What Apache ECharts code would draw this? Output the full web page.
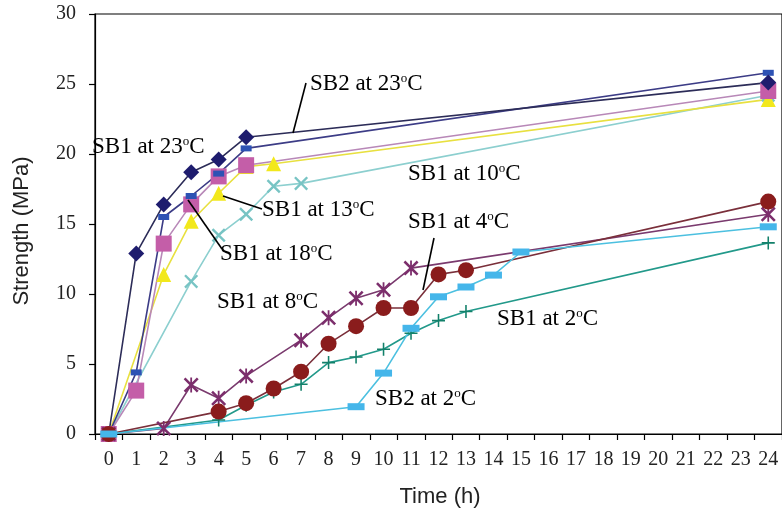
<!DOCTYPE html>
<html>
<head>
<meta charset="utf-8">
<script src="https://cdn.jsdelivr.net/npm/echarts@6/dist/echarts.min.js"></script>
<style>
html,body{margin:0;padding:0;background:#fff;}
#chart{width:782px;height:514px;}
</style>
</head>
<body>
<div id="chart"></div>
<script>
// ---- Data (hours 0..24, strength in MPa) ----
const hours = ['0','1','2','3','4','5','6','7','8','9','10','11','12','13','14','15','16','17','18','19','20','21','22','23','24'];
const yTicks = [0, 5, 10, 15, 20, 25, 30];

const sb2_23 = [0, 12.9, 16.4, 18.7, 19.6, 21.2, null, null, null, null, null, null, null, null, null, null, null, null, null, null, null, null, null, null, 25.1];
const sb1_23 = [0, 4.4, 15.5, 17.0, 18.6, 20.4, null, null, null, null, null, null, null, null, null, null, null, null, null, null, null, null, null, null, 25.8];
const sb1_18 = [0, 3.1, 13.6, 16.4, 18.4, 19.2, null, null, null, null, null, null, null, null, null, null, null, null, null, null, null, null, null, null, 24.5];
const sb1_13 = [0, null, 11.4, 15.2, 17.2, 19.1, 19.3, null, null, null, null, null, null, null, null, null, null, null, null, null, null, null, null, null, 23.9];
const sb1_10 = [0, null, null, 10.9, 14.2, 15.7, 17.7, 17.9, null, null, null, null, null, null, null, null, null, null, null, null, null, null, null, null, 24.2];
const sb1_8  = [0, null, 0.4, 3.5, 2.55, 4.15, null, 6.7, 8.3, 9.7, 10.3, 11.85, null, null, null, null, null, null, null, null, null, null, null, null, 15.7];
const sb1_4  = [0, null, null, null, 1.6, 2.2, 3.25, 4.45, 6.45, 7.7, 9.0, 9.0, 11.4, 11.7, null, null, null, null, null, null, null, null, null, null, 16.6];
const sb1_2  = [0, null, null, null, 1.0, 2.05, 3.0, 3.55, 5.1, 5.5, 6.05, 7.2, 8.1, 8.75, null, null, null, null, null, null, null, null, null, null, 13.65];
const sb2_2  = [0, null, null, null, null, null, null, null, null, 1.95, 4.35, 7.55, 9.8, 10.5, 11.35, 13.0, null, null, null, null, null, null, null, null, 14.8];

const seriesNames = ['SB2 at 23°C','SB1 at 23°C','SB1 at 18°C','SB1 at 13°C','SB1 at 10°C','SB1 at 8°C','SB1 at 4°C','SB1 at 2°C','SB2 at 2°C'];

// ---- Marker shapes ----
const X_PATH = 'path://M0,1.2 L1.2,0 L5,3.8 L8.8,0 L10,1.2 L6.2,5 L10,8.8 L8.8,10 L5,6.2 L1.2,10 L0,8.8 L3.8,5 Z';
const PLUS_PATH = 'path://M4.4,0 H5.6 V4.4 H10 V5.6 H5.6 V10 H4.4 V5.6 H0 V4.4 H4.4 Z';
const AST_PATH = 'path://M0,1.2 L1.2,0 L5,3.8 L8.8,0 L10,1.2 L6.2,5 L10,8.8 L8.8,10 L5,6.2 L1.2,10 L0,8.8 L3.8,5 Z M4.4,0 H5.6 V10 H4.4 Z';

function mk(name, data, lineColor, markColor, symbol, size) {
  return {
    name: name, type: 'line', data: data, connectNulls: true,
    symbol: symbol, symbolSize: size, showSymbol: true,
    lineStyle: { color: lineColor, width: 1.6 },
    itemStyle: { color: markColor, borderWidth: 0 },
    emphasis: { disabled: true }, z: 3
  };
}

const series = [
  mk(seriesNames[4], sb1_10, '#8ccfcf', '#78c4c4', X_PATH, 14),
  mk(seriesNames[3], sb1_13, '#e8e040', '#f2e81c', 'triangle', 15),
  mk(seriesNames[2], sb1_18, '#b888b8', '#c45ea8', 'rect', 16),
  mk(seriesNames[1], sb1_23, '#3c3c86', '#2d52b4', 'rect', [11, 6]),
  mk(seriesNames[0], sb2_23, '#2c2c58', '#1e1c6e', 'diamond', 16),
  mk(seriesNames[5], sb1_8, '#7a3a6e', '#7c2e6c', AST_PATH, 15),
  mk(seriesNames[7], sb1_2, '#22998a', '#12806a', PLUS_PATH, 13),
  mk(seriesNames[6], sb1_4, '#7a2f3a', '#8a1c1c', 'circle', 16),
  mk(seriesNames[8], sb2_2, '#4cc0e0', '#45b6ea', 'rect', [17, 7])
];

function label(x, y, pre) {
  return {
    type: 'text', x: x, y: y, z: 10,
    style: {
      text: '{a|' + pre + '}{s|o}{a|C}',
      verticalAlign: 'middle', align: 'left',
      rich: {
        a: { fontFamily: 'Liberation Serif', fontSize: 23, fill: '#000' },
        s: { fontFamily: 'Liberation Serif', fontSize: 13, fill: '#000', verticalAlign: 'top' }
      }
    }
  };
}
function lead(x1, y1, x2, y2) {
  return { type: 'line', z: 10, shape: { x1: x1, y1: y1, x2: x2, y2: y2 }, style: { stroke: '#000', lineWidth: 1.6 } };
}

const chart = echarts.init(document.getElementById('chart'), null, { renderer: 'canvas' });
chart.setOption({
  animation: false,
  backgroundColor: '#ffffff',
  grid: { left: 95, right: -6, top: 14, bottom: 80, show: true, borderColor: '#000', borderWidth: 1.2, backgroundColor: 'transparent' },
  xAxis: {
    type: 'category', data: hours, boundaryGap: true,
    axisLine: { lineStyle: { color: '#000', width: 1.2 } },
    axisTick: { show: true, inside: false, length: 6, lineStyle: { color: '#000', width: 1.2 } },
    axisLabel: { interval: 0, margin: 16, fontFamily: 'Liberation Serif', fontSize: 20, color: '#222' },
    splitLine: { show: false }
  },
  yAxis: {
    type: 'value', min: yTicks[0], max: yTicks[yTicks.length - 1], interval: 5,
    axisLine: { show: true, lineStyle: { color: '#000', width: 1.2 } },
    axisTick: { show: true, inside: false, length: 6, lineStyle: { color: '#000', width: 1.2 } },
    axisLabel: { margin: 19, fontFamily: 'Liberation Serif', fontSize: 20, color: '#222' },
    splitLine: { show: false }
  },
  graphic: [
    { type: 'text', x: 440, y: 497, z: 10, style: { text: 'Time (h)', fontFamily: 'Liberation Sans', fontSize: 22, fill: '#222', align: 'center', verticalAlign: 'middle' } },
    { type: 'text', x: 22, y: 231, rotation: Math.PI / 2, z: 10, style: { text: 'Strength (MPa)', fontFamily: 'Liberation Sans', fontSize: 22, fill: '#222', align: 'center', verticalAlign: 'middle' } },
    label(310, 84, 'SB2 at 23'),
    label(92, 147, 'SB1 at 23'),
    label(262, 210, 'SB1 at 13'),
    label(220, 254, 'SB1 at 18'),
    label(408, 174, 'SB1 at 10'),
    label(408, 222, 'SB1 at 4'),
    label(217, 302, 'SB1 at 8'),
    label(497, 319, 'SB1 at 2'),
    label(375, 399, 'SB2 at 2'),
    lead(293, 133, 306, 83),
    lead(223, 196, 262, 209),
    lead(188, 200, 222, 249),
    lead(423, 290, 434, 238)
  ],
  series: series
});
</script>
</body>
</html>
